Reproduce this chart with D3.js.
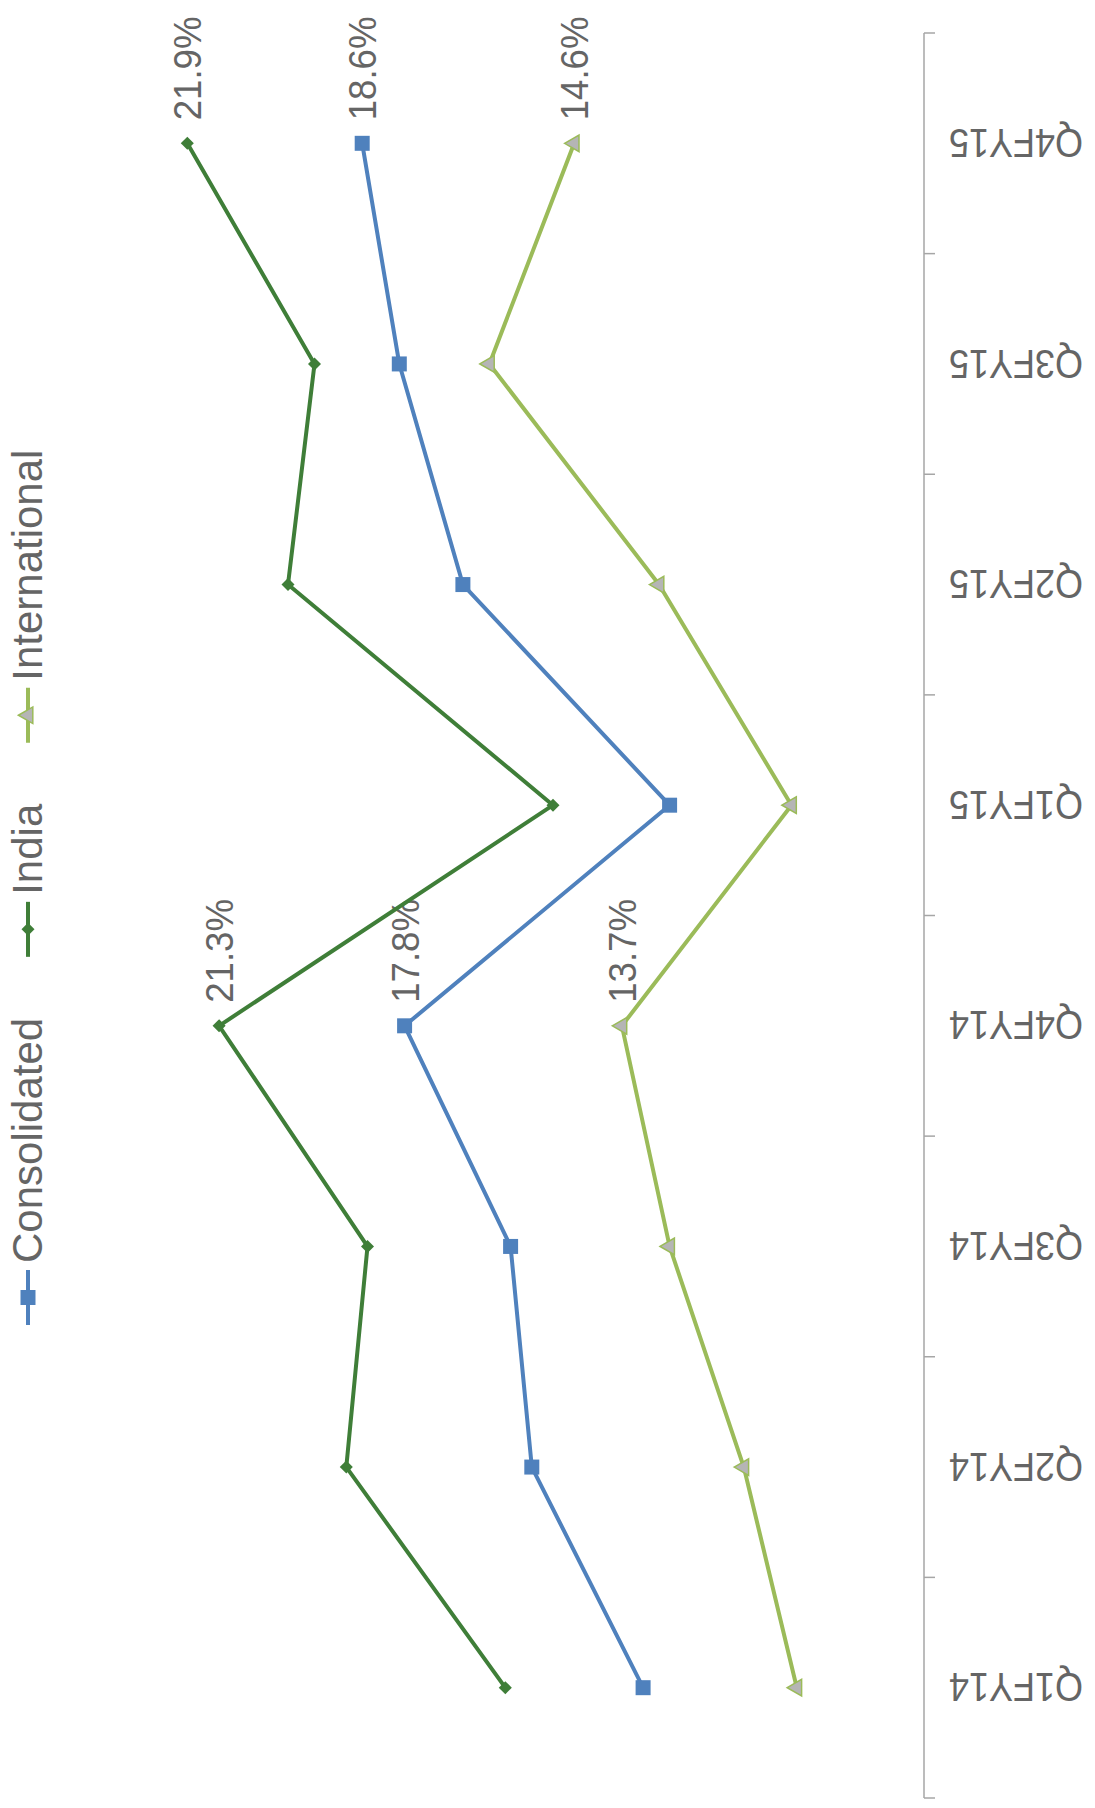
<!DOCTYPE html>
<html>
<head>
<meta charset="utf-8">
<script src="https://cdn.jsdelivr.net/npm/d3@7"></script>
<style>
  body { margin: 0; background: #fff; }
  text { font-family: "Liberation Sans", Arial, sans-serif; fill: #656565; }
</style>
</head>
<body>
<div id="chart"></div>
<script>
// data
var categories = ['Q1FY14', 'Q2FY14', 'Q3FY14', 'Q4FY14', 'Q1FY15', 'Q2FY15', 'Q3FY15', 'Q4FY15'];
var seriesNames = ['Consolidated', 'India', 'International'];
var consolidated = [13.3, 15.4, 15.8, 17.8, 12.8, 16.7, 17.9, 18.6];
var india = [15.9, 18.9, 18.5, 21.3, 15.0, 20.0, 19.5, 21.9];
var international = [10.4, 11.4, 12.8, 13.7, 10.5, 13.0, 16.2, 14.6];
var labelled = ['Q4FY14', 'Q4FY15'];

var W = 1095, H = 1808;

var series = [
    { name: seriesNames[0], values: consolidated, color: '#4f81bd', marker: 'square' },
    { name: seriesNames[1], values: india, color: '#3f7e38', marker: 'diamond' },
    { name: seriesNames[2], values: international, color: '#9bbb59', marker: 'triangle' }
];

var svg = d3.select('#chart').append('svg')
            .attr('width', W).attr('height', H);

// chart is drawn turned on its side: categories run bottom to top, values grow to the left
var y = d3.scaleBand().domain(categories).range([1798, 33]).paddingInner(0).paddingOuter(0);
var x = d3.scaleLinear().domain([8, 25]).range([924, 23]);

function cy(c) { return y(c) + y.bandwidth() / 2; }

// category axis on the right
var axisG = svg.append('g').attr('class', 'axis');
axisG.append('line')
     .attr('x1', x(8)).attr('x2', x(8))
     .attr('y1', 33).attr('y2', 1798)
     .attr('stroke', '#a6a6a6').attr('stroke-width', 1.5);

var bounds = categories.map(function(c) { return y(c); }).concat([y.range()[0]]);
axisG.selectAll('line.tick').data(bounds).enter()
     .append('line').attr('class', 'tick')
     .attr('x1', x(8)).attr('x2', x(8) + 11)
     .attr('y1', function(d) { return d; }).attr('y2', function(d) { return d; })
     .attr('stroke', '#a6a6a6').attr('stroke-width', 1.5);

axisG.selectAll('text').data(categories).enter()
     .append('text')
     .attr('transform', function(c) { return 'translate(1083,' + cy(c) + ') rotate(180) scale(0.9,1)'; })
     .attr('dy', '0.36em')
     .style('font-size', '40px')
     .text(function(c) { return c; });

function markerPath(type) {
    if (type === 'square') return d3.symbol().type(d3.symbolSquare).size(225)();
    if (type === 'diamond') return d3.symbol().type(d3.symbolSquare).size(85)();
    return d3.symbol().type(d3.symbolTriangle).size(120)();
}
function markerRotate(type) {
    if (type === 'diamond') return 45;
    if (type === 'triangle') return -90;
    return 0;
}
function drawMarker(g, type, color) {
    g.append('path')
     .attr('d', markerPath(type))
     .attr('transform', 'rotate(' + markerRotate(type) + ')')
     .attr('fill', type === 'triangle' ? '#b5b5b5' : color)
     .attr('stroke', color)
     .attr('stroke-width', type === 'triangle' ? 1.5 : 0);
}

var line = d3.line()
             .x(function(d) { return x(d.v); })
             .y(function(d) { return cy(d.c); });

series.forEach(function(s) {
    var pts = categories.map(function(c, i) { return { c: c, v: s.values[i] }; });
    var g = svg.append('g').attr('class', 'series');

    g.append('path').datum(pts)
     .attr('d', line)
     .attr('fill', 'none')
     .attr('stroke', s.color)
     .attr('stroke-width', 4)
     .attr('stroke-linejoin', 'round');

    g.selectAll('g.m').data(pts).enter()
     .append('g').attr('class', 'm')
     .attr('transform', function(d) { return 'translate(' + x(d.v) + ',' + cy(d.c) + ')'; })
     .each(function() { drawMarker(d3.select(this), s.marker, s.color); });

    g.selectAll('text').data(pts.filter(function(d) { return labelled.indexOf(d.c) >= 0; })).enter()
     .append('text')
     .attr('transform', function(d) { return 'translate(' + x(d.v) + ',' + (cy(d.c) - 23) + ') rotate(-90) scale(0.94,1)'; })
     .attr('dy', '0.36em')
     .style('font-size', '39px')
     .text(function(d) { return d.v.toFixed(1) + '%'; });
});

// legend, down the left edge, read from bottom to top
var legend = svg.append('g').attr('class', 'legend');
var cur = 1325;
series.forEach(function(s) {
    var g = legend.append('g');
    g.append('line')
     .attr('x1', 28).attr('x2', 28)
     .attr('y1', cur - 55).attr('y2', cur)
     .attr('stroke', s.color).attr('stroke-width', 4);
    var mg = g.append('g').attr('transform', 'translate(28,' + (cur - 27.5) + ')');
    drawMarker(mg, s.marker, s.color);
    var t = g.append('text')
             .attr('transform', 'translate(42,' + (cur - 62) + ') rotate(-90)')
             .style('font-size', '42px')
             .text(s.name);
    var len = t.node().getComputedTextLength();
    cur = cur - 62 - len - 61;
});
</script>
</body>
</html>
